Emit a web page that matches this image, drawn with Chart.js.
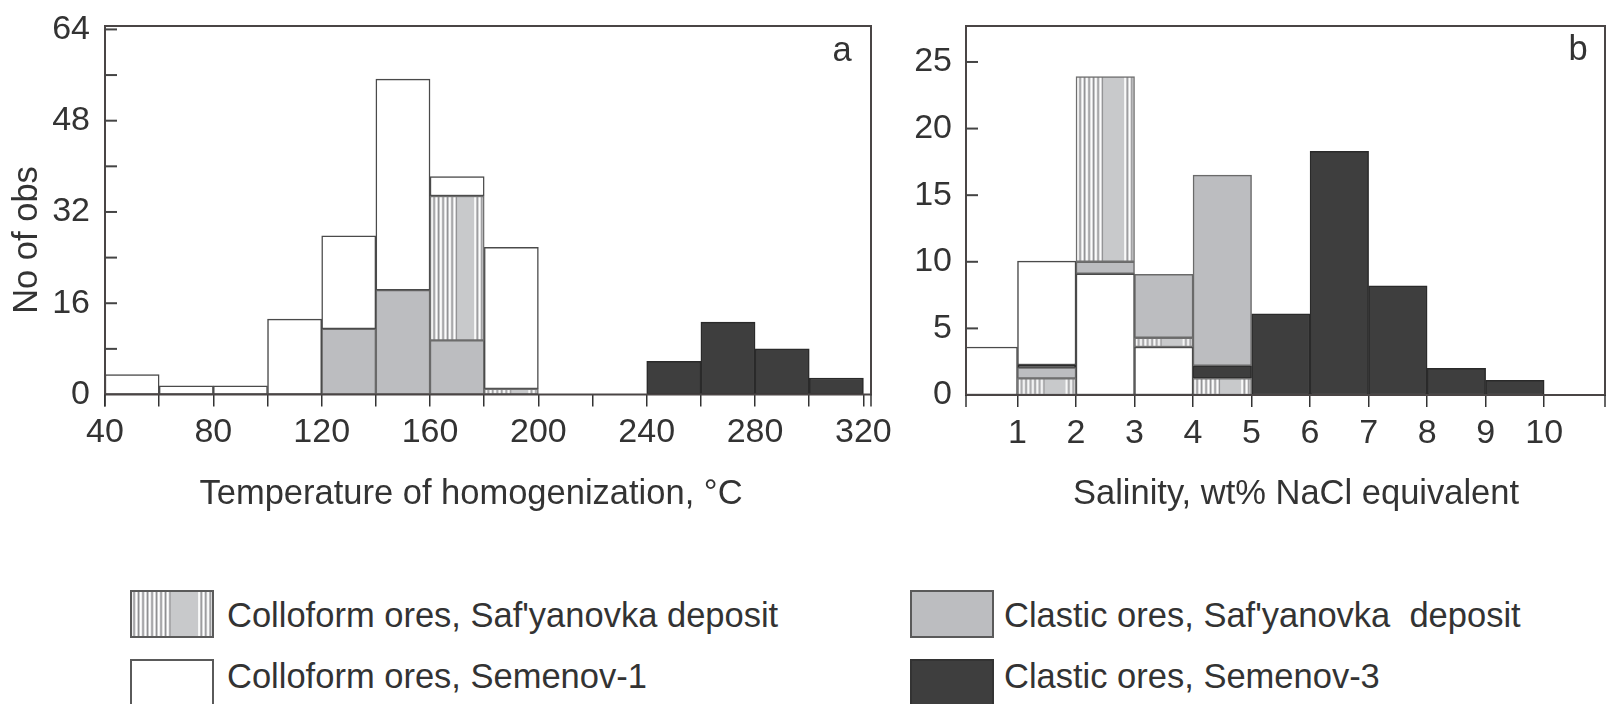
<!DOCTYPE html>
<html><head><meta charset="utf-8">
<script src="https://cdn.jsdelivr.net/npm/chart.js@4.4.1/dist/chart.umd.min.js"></script>
<style>
html,body{margin:0;padding:0;background:#fff;width:1606px;height:704px;overflow:hidden;position:relative;font-family:"Liberation Sans",Arial,sans-serif;}
canvas{position:absolute;top:0;}
#cA{left:0px}
#cB{left:890px}
.sw{position:absolute;box-sizing:border-box;width:84px;height:48px;}
.lt{position:absolute;font-size:34.5px;color:#333;white-space:pre;line-height:40px;height:40px;}
</style></head><body>
<canvas id="cA" width="900" height="540"></canvas>
<canvas id="cB" width="716" height="540"></canvas>
<div id="legend"></div>
<script>
// ---------------- DATA ----------------
const seriesNames = [
  "Colloform ores, Saf'yanovka deposit",
  "Colloform ores, Semenov-1",
  "Clastic ores, Saf'yanovka  deposit",
  "Clastic ores, Semenov-3"
];
// (a) Temperature of homogenization, bins of 20 °C (start values)
const tempBinStart = [40, 60, 80, 100, 120, 140, 160, 180, 200, 220, 240, 260, 280, 300];
const tempColloSaf = [0, 0, 0, 0, 0, 0, 25.3, 1.0, 0, 0, 0, 0, 0, 0];
const tempColloSem = [3.5, 1.5, 1.5, 13.2, 16.3, 37.0, 3.4, 24.8, 0, 0, 0, 0, 0, 0];
const tempClastSaf = [0, 0, 0, 0, 11.5, 18.3, 9.5, 0, 0, 0, 0, 0, 0, 0];
const tempClastSem = [0, 0, 0, 0, 0, 0, 0, 0, 0, 0, 5.8, 12.7, 8.0, 2.9];
const tempTicks = [40, 60, 80, 100, 120, 140, 160, 180, 200, 220, 240, 260, 280, 300, 320];
const tempTickLabels = [40, 80, 120, 160, 200, 240, 280, 320];
const obsTicksA = [0, 8, 16, 24, 32, 40, 48, 56, 64];
const obsLabelsA = [0, 16, 32, 48, 64];
const stackOrderA = [2, 0, 1, 3];

// (b) Salinity, bins of 1 wt% (start values)
const salBinStart = [0, 1, 2, 3, 4, 5, 6, 7, 8, 9, 10];
const salColloSaf = [0, 1.25, 13.9, 0.7, 1.25, 0, 0, 0, 0, 0, 0];
const salColloSem = [3.6, 7.8, 9.1, 3.6, 0, 0, 0, 0, 0, 0, 0];
const salClastSaf = [0, 0.8, 0.9, 4.75, 14.3, 0, 0, 0, 0, 0, 0];
const salClastSem = [0, 0.2, 0, 0, 0.95, 6.1, 18.3, 8.2, 2.0, 1.1, 0];
const salTicks = [1, 2, 3, 4, 5, 6, 7, 8, 9, 10];
const salTickLabels = [1, 2, 3, 4, 5, 6, 7, 8, 9, 10];
const obsTicksB = [0, 2.5, 5, 7.5, 10, 12.5, 15, 17.5, 20, 22.5, 25];
const obsLabelsB = [0, 5, 10, 15, 20, 25];
const stackOrderB = [[1], [0, 2, 3, 1], [1, 2, 0], [1, 0, 2], [0, 3, 2], [3], [3], [3], [3], [3], [3]];

// ---------------- STYLE ----------------
const FONT = "'Liberation Sans', Arial, sans-serif";
Chart.defaults.font.family = FONT;
Chart.defaults.font.size = 34;
Chart.defaults.color = '#333';

function makeTile(w, h) {
  const c = document.createElement('canvas');
  c.width = Math.max(8, Math.round(w)); c.height = h || 4;
  const g = c.getContext('2d');
  g.fillStyle = '#c8c9cb'; g.fillRect(0, 0, c.width, c.height);
  const stripe = (a, b) => {
    for (let x = a + 1; x < b - 1.5; x += 4.5) {
      g.fillStyle = '#ffffff'; g.fillRect(x, 0, 1.7, c.height);
      g.fillStyle = '#8a8a8c'; g.fillRect(x + 2.6, 0, 0.9, c.height);
    }
  };
  stripe(0, c.width * 0.47);
  stripe(c.width * 0.8, c.width);
  return c;
}

const fills = [null, '#ffffff', '#bcbdc0', '#3e3e3e'];
const borders = ['#6f6f6f', '#4a4a4a', '#6a6a6a', '#2a2a2a'];

function buildFloating(starts, width, vals, orderFor) {
  const out = vals.map(() => []);
  starts.forEach((s, i) => {
    let base = 0;
    orderFor(i).forEach(k => {
      const v = vals[k][i];
      if (v > 0) { out[k].push({ x: s + width / 2, y: [base, base + v] }); base += v; }
    });
  });
  return out;
}

function makeDatasets(floating, width) {
  let tile = null;
  return floating.map((data, k) => ({
    label: seriesNames[k],
    data,
    grouped: false,
    barPercentage: 1,
    categoryPercentage: 1,
    borderSkipped: false,
    borderWidth: 1.5,
    borderColor: borders[k],
    backgroundColor: k !== 0 ? fills[k] : (ctx) => {
      const ch = ctx.chart;
      if (!ch.chartArea || !ctx.raw) return '#c8c9cb';
      const xs = ch.scales.x;
      const x0 = xs.getPixelForValue(ctx.raw.x - width / 2);
      const x1 = xs.getPixelForValue(ctx.raw.x + width / 2);
      if (!tile) tile = makeTile(x1 - x0);
      const p = ch.ctx.createPattern(tile, 'repeat');
      p.setTransform(new DOMMatrix().translate(x0, 0));
      return p;
    }
  }));
}

const framePlugin = {
  id: 'frame',
  afterDatasetsDraw(chart, args, opts) {
    const { ctx, chartArea: a } = chart;
    ctx.save();
    ctx.strokeStyle = '#4a4545'; ctx.lineWidth = 2;
    ctx.strokeRect(a.left, a.top, a.right - a.left, a.bottom - a.top);
    ctx.strokeStyle = '#333'; ctx.lineWidth = 1.5;
    [a.left, a.right].forEach(x => {
      ctx.beginPath(); ctx.moveTo(x, a.bottom); ctx.lineTo(x, a.bottom + 12); ctx.stroke();
    });
    const ys = chart.scales.y;
    ctx.lineWidth = 2; ctx.strokeStyle = '#444';
    ys.ticks.forEach(t => {
      if (t.value === 0) return;
      const y = ys.getPixelForValue(t.value);
      ctx.beginPath(); ctx.moveTo(a.left, y); ctx.lineTo(a.left + 12, y); ctx.stroke();
    });
    ctx.fillStyle = '#333';
    ctx.font = '34.5px ' + FONT;
    ctx.textBaseline = 'middle';
    (opts.texts || []).forEach(t => {
      ctx.save();
      ctx.translate(t.x, t.y);
      if (t.rot) ctx.rotate(t.rot);
      ctx.textAlign = t.align || 'center';
      ctx.fillText(t.text, 0, 0);
      ctx.restore();
    });
    ctx.restore();
  }
};

function makeChart(id, cfg) {
  const floating = buildFloating(cfg.starts, cfg.width, cfg.vals, cfg.orderFor);
  return new Chart(document.getElementById(id), {
    type: 'bar',
    data: { datasets: makeDatasets(floating, cfg.width) },
    plugins: [framePlugin],
    options: {
      responsive: false,
      animation: false,
      layout: { padding: { left: 0, top: cfg.padTop, right: cfg.padRight, bottom: 0 } },
      plugins: { legend: { display: false }, tooltip: { enabled: false }, frame: { texts: cfg.texts } },
      scales: {
        x: {
          type: 'linear', min: cfg.xmin, max: cfg.xmax, offset: false,
          grid: { offset: false, drawOnChartArea: false, drawTicks: true, tickLength: 12, color: '#333', lineWidth: 1.5 },
          border: { display: false },
          afterBuildTicks: s => { s.ticks = cfg.xTicks.map(v => ({ value: v })); },
          afterFit: s => { s.height = cfg.xHeight; s.paddingLeft = 0; s.paddingRight = 0; },
          ticks: {
            autoSkip: false, maxRotation: 0, minRotation: 0, padding: 6, color: '#333',
            callback: v => cfg.xLabels.includes(v) ? String(v) : ''
          }
        },
        y: {
          type: 'linear', min: 0, max: cfg.ymax,
          grid: { display: false, drawTicks: false },
          border: { display: false },
          afterBuildTicks: s => { s.ticks = cfg.yTicks.map(v => ({ value: v })); },
          afterFit: s => { s.width = cfg.yWidth; s.paddingTop = 0; s.paddingBottom = 0; },
          ticks: {
            padding: cfg.yPad, color: '#333',
            callback: v => cfg.yLabels.includes(v) ? String(v) : ''
          }
        }
      }
    }
  });
}

makeChart('cA', {
  starts: tempBinStart, width: 20,
  vals: [tempColloSaf, tempColloSem, tempClastSaf, tempClastSem],
  orderFor: () => stackOrderA,
  xmin: 40, xmax: 322.8, xTicks: tempTicks, xLabels: tempTickLabels,
  ymax: 64.6, yTicks: obsTicksA, yLabels: obsLabelsA,
  yWidth: 105, yPad: 15, xHeight: 145.5, padTop: 26, padRight: 29,
  texts: [
    { text: 'No of obs', x: 27, y: 240, rot: -Math.PI / 2 },
    { text: 'Temperature of homogenization, \u00B0C', x: 471, y: 494 },
    { text: 'a', x: 842, y: 51 }
  ]
});

makeChart('cB', {
  starts: salBinStart, width: 1,
  vals: [salColloSaf, salColloSem, salClastSaf, salClastSem],
  orderFor: i => stackOrderB[i],
  xmin: 0.12, xmax: 11.04, xTicks: salTicks, xLabels: salTickLabels,
  ymax: 27.7, yTicks: obsTicksB, yLabels: obsLabelsB,
  yWidth: 76, yPad: 14, xHeight: 145, padTop: 26, padRight: 1,
  texts: [
    { text: 'Salinity, wt% NaCl equivalent', x: 406, y: 494 },
    { text: 'b', x: 688, y: 50 }
  ]
});

// ---------------- LEGEND ----------------
const legendPos = [
  { box: [130, 590], text: [227, 615] },
  { box: [130, 659], text: [227, 676] },
  { box: [910, 590], text: [1004, 615] },
  { box: [910, 659], text: [1004, 676] }
];
const lg = document.getElementById('legend');
const legendTile = makeTile(84, 4).toDataURL();
seriesNames.forEach((name, k) => {
  const p = legendPos[k];
  const sw = document.createElement('div');
  sw.className = 'sw';
  sw.style.left = p.box[0] + 'px'; sw.style.top = p.box[1] + 'px';
  sw.style.border = '2px solid ' + (k === 3 ? '#333' : '#5a5a5a');
  if (k === 0) { sw.style.backgroundImage = 'url(' + legendTile + ')'; sw.style.backgroundPosition = '-2px 0'; }
  else sw.style.background = fills[k];
  lg.appendChild(sw);
  const t = document.createElement('div');
  t.className = 'lt';
  t.style.left = p.text[0] + 'px'; t.style.top = (p.text[1] - 20) + 'px';
  t.textContent = name;
  lg.appendChild(t);
});
</script>
</body></html>
